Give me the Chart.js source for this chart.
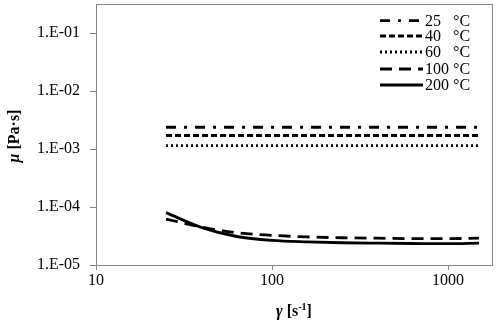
<!DOCTYPE html>
<html>
<head>
<meta charset="utf-8">
<script src="https://cdn.jsdelivr.net/npm/chart.js@4"></script>
<style>
  html, body { margin: 0; padding: 0; background: #fff; }
  #wrap { width: 498px; height: 324px; position: relative; }
</style>
</head>
<body>
<div id="wrap"><canvas id="c" width="498" height="324"></canvas></div>
<script>
// ---- data ----
const shearRate = [25, 40, 63, 100, 158, 251, 398, 631, 1000, 1500];
const mu25  = [2.37e-3, 2.37e-3, 2.37e-3, 2.37e-3, 2.37e-3, 2.37e-3, 2.37e-3, 2.37e-3, 2.37e-3, 2.37e-3];
const mu40  = [1.71e-3, 1.71e-3, 1.71e-3, 1.71e-3, 1.71e-3, 1.71e-3, 1.71e-3, 1.71e-3, 1.71e-3, 1.71e-3];
const mu60  = [1.14e-3, 1.14e-3, 1.14e-3, 1.14e-3, 1.14e-3, 1.14e-3, 1.14e-3, 1.14e-3, 1.14e-3, 1.14e-3];
const mu100 = [6.2e-5, 4.5e-5, 3.6e-5, 3.25e-5, 3.05e-5, 2.95e-5, 2.9e-5, 2.85e-5, 2.85e-5, 2.9e-5];
const mu200 = [8.0e-5, 4.4e-5, 3.1e-5, 2.65e-5, 2.5e-5, 2.42e-5, 2.38e-5, 2.35e-5, 2.33e-5, 2.38e-5];
const seriesLabels = ['25', '40', '60', '100', '200'];
const unitLabel = '°C';
const xTicks = [10, 100, 1000];
const yTicks = [1e-5, 1e-4, 1e-3, 1e-2, 1e-1];
const yTickLabels = ['1.E-05', '1.E-04', '1.E-03', '1.E-02', '1.E-01'];

const series = [mu25, mu40, mu60, mu100, mu200];
const dashes = [[10, 8, 3, 8], [6, 3], [2, 3], [12, 7], []];

const GRAY = '#868686';
const SERIF = '"Liberation Serif", "Times New Roman", Times, serif';

function build() {
  const datasets = series.map((vals, i) => ({
    label: seriesLabels[i] + ' ' + unitLabel,
    data: vals.map((v, j) => ({ x: shearRate[j], y: v })),
    borderColor: '#000',
    borderWidth: 2.8,
    borderDash: dashes[i],
    pointRadius: 0,
    fill: false,
    cubicInterpolationMode: 'monotone'
  }));

  const decor = {
    id: 'decor',
    afterDraw(chart) {
      const ctx = chart.ctx;
      const a = chart.chartArea;
      ctx.save();
      ctx.strokeStyle = GRAY;
      ctx.lineWidth = 1;
      ctx.beginPath();
      ctx.moveTo(a.left, a.top + 0.5);
      ctx.lineTo(a.right + 0.5, a.top + 0.5);
      ctx.lineTo(a.right + 0.5, a.bottom);
      ctx.stroke();

      // legend
      const x0 = 380, x1 = 423, tx = 425, ux = 453;
      const rows = [20.7, 36, 52, 69, 85];
      chart.data.datasets.forEach((ds, i) => {
        const y = rows[i];
        ctx.strokeStyle = '#000';
        ctx.lineWidth = ds.borderWidth;
        ctx.setLineDash(ds.borderDash);
        ctx.beginPath();
        ctx.moveTo(x0, y);
        ctx.lineTo(x1, y);
        ctx.stroke();
        ctx.setLineDash([]);
        ctx.fillStyle = '#000';
        ctx.font = '16px ' + SERIF;
        ctx.textBaseline = 'middle';
        ctx.textAlign = 'left';
        ctx.fillText(seriesLabels[i], tx, y + 1);
        ctx.fillText(unitLabel, ux, y + 1);
      });

      // y title
      ctx.save();
      ctx.translate(15, 136);
      ctx.rotate(-Math.PI / 2);
      ctx.textBaseline = 'middle';
      ctx.textAlign = 'left';
      const p1 = 'μ', p2 = ' [Pa·s]';
      ctx.font = 'italic bold 16px ' + SERIF;
      const w1 = ctx.measureText(p1).width;
      ctx.font = 'bold 16px ' + SERIF;
      const w2 = ctx.measureText(p2).width;
      const sx = -(w1 + w2) / 2;
      ctx.font = 'italic bold 16px ' + SERIF;
      ctx.fillText(p1, sx, 0);
      ctx.font = 'bold 16px ' + SERIF;
      ctx.fillText(p2, sx + w1, 0);
      ctx.restore();

      // x title
      ctx.save();
      ctx.textBaseline = 'alphabetic';
      ctx.textAlign = 'left';
      const cx = (a.left + a.right) / 2, by = 316;
      const q1 = 'γ', q2 = ' [s', q3 = '-1', q4 = ']';
      ctx.font = 'italic bold 16px ' + SERIF;
      const m1 = ctx.measureText(q1).width;
      ctx.font = 'bold 16px ' + SERIF;
      const m2 = ctx.measureText(q2).width;
      const m4 = ctx.measureText(q4).width;
      ctx.font = 'bold 10px ' + SERIF;
      const m3 = ctx.measureText(q3).width;
      let px = cx - (m1 + m2 + m3 + m4) / 2;
      ctx.font = 'italic bold 16px ' + SERIF;
      ctx.fillText(q1, px, by); px += m1;
      ctx.font = 'bold 16px ' + SERIF;
      ctx.fillText(q2, px, by); px += m2;
      ctx.font = 'bold 10px ' + SERIF;
      ctx.fillText(q3, px, by - 6); px += m3;
      ctx.font = 'bold 16px ' + SERIF;
      ctx.fillText(q4, px, by);
      ctx.restore();

      ctx.restore();
    }
  };

  new Chart(document.getElementById('c'), {
    type: 'line',
    data: { datasets },
    options: {
      responsive: false,
      animation: false,
      layout: { padding: { left: 0, right: 6, top: 4, bottom: 0 } },
      plugins: { legend: { display: false }, tooltip: { enabled: false } },
      scales: {
        x: {
          type: 'logarithmic',
          min: 10,
          max: 1778,
          afterBuildTicks: s => { s.ticks = xTicks.map(v => ({ value: v })); },
          afterFit: s => { s.height = 59; s.paddingLeft = 0; s.paddingRight = 0; },
          ticks: {
            color: '#000',
            font: { family: SERIF, size: 16 },
            padding: 1,
            maxRotation: 0,
            autoSkip: false,
            callback: v => String(v)
          },
          grid: { drawOnChartArea: false, color: GRAY, tickLength: 5 },
          border: { color: GRAY, width: 1 }
        },
        y: {
          type: 'logarithmic',
          min: 1e-5,
          max: Math.pow(10, -0.5),
          afterBuildTicks: s => { s.ticks = yTicks.map(v => ({ value: v })); },
          afterFit: s => { s.width = 96; s.paddingTop = 0; s.paddingBottom = 0; },
          ticks: {
            color: '#000',
            font: { family: SERIF, size: 16 },
            padding: 10,
            autoSkip: false,
            callback: v => { const k = yTicks.findIndex(t => Math.abs(t - v) / t < 1e-6); return k >= 0 ? yTickLabels[k] : ''; }
          },
          grid: { drawOnChartArea: false, color: GRAY, tickLength: 6 },
          border: { color: GRAY, width: 1 }
        }
      }
    },
    plugins: [decor]
  });
}

let started = false;
function go() { if (!started) { started = true; build(); } }
if (document.fonts && document.fonts.load) {
  Promise.all([
    document.fonts.load('16px "Liberation Serif"'),
    document.fonts.load('bold 16px "Liberation Serif"'),
    document.fonts.load('italic bold 16px "Liberation Serif"')
  ]).then(go, go);
  setTimeout(go, 800);
} else {
  go();
}
</script>
</body>
</html>
